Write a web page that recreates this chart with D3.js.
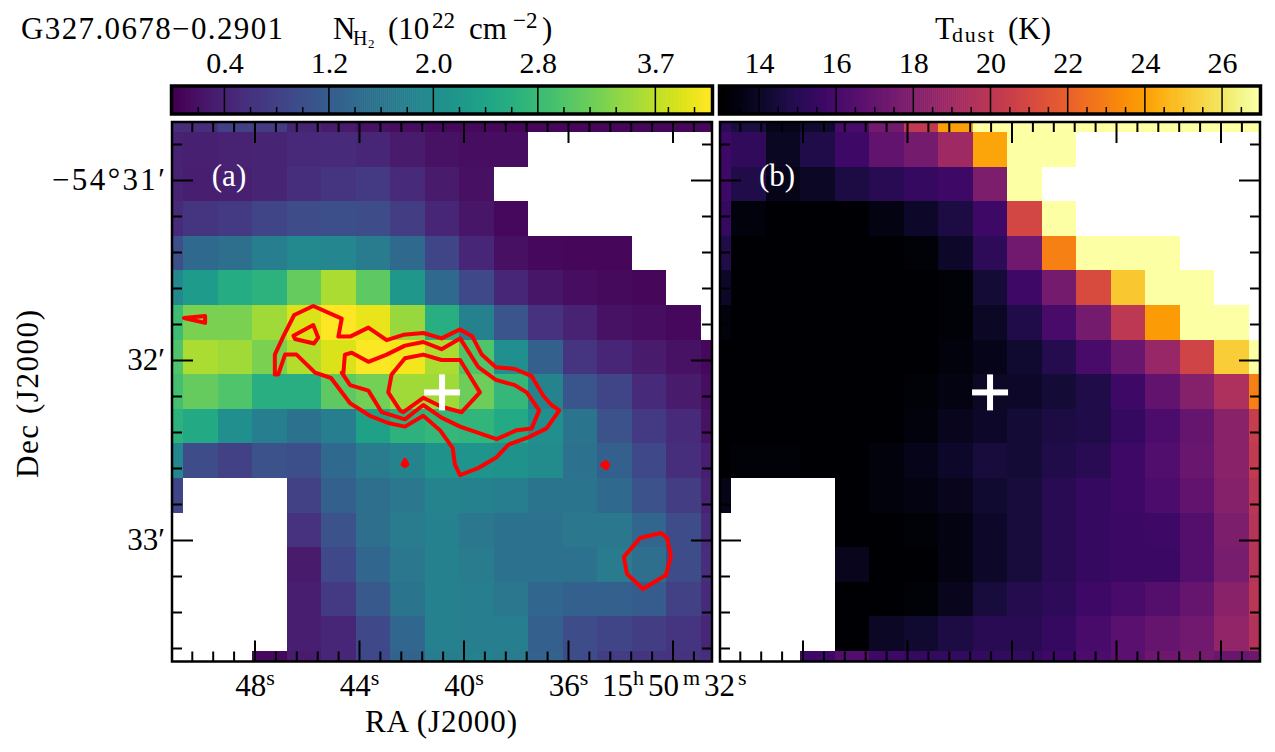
<!DOCTYPE html>
<html><head><meta charset="utf-8">
<script src="https://cdnjs.cloudflare.com/ajax/libs/d3/7.8.5/d3.min.js"></script>
<style>html,body{margin:0;padding:0;background:#fff}svg{display:block}text{font-family:"Liberation Serif",serif;fill:#000}</style>
</head><body><svg id="c" width="1275" height="752"></svg>
<script>
const _ = null;
const nh2 = [
[.55,.55,.8,.72,.4,.3,.2,.15,.1,.1,.08,.08,.08,.08,.08,.08,.08],
[.4,.38,.4,.42,.48,.5,.45,.3,.2,.15,.15,_,_,_,_,_,_],
[.4,.35,.38,.42,.55,.65,.7,.5,.3,.18,_,_,_,_,_,_,_],
[.5,.65,.7,.85,.95,1.0,.95,.75,.45,.25,.1,_,_,_,_,_,_],
[1.0,1.4,1.5,1.75,1.95,1.9,1.7,1.4,.85,.45,.18,.1,.08,.08,_,_,_],
[1.95,2.25,2.55,2.65,3.15,3.6,3.1,2.2,1.4,.9,.45,.25,.15,.12,.08,_,_],
[2.85,3.3,3.3,3.55,3.9,4.13,4.0,3.5,2.6,1.8,1.1,.6,.4,.2,.15,.1,_],
[3.0,3.6,3.55,3.3,3.65,3.9,4.1,4.05,3.6,3.0,2.05,1.25,.65,.45,.3,.2,.1],
[2.9,3.15,3.0,2.6,2.6,3.1,3.25,3.55,3.55,3.2,2.75,1.85,1.1,.85,.5,.3,.15],
[2.65,2.5,2.05,1.75,1.55,1.75,2.35,2.65,2.75,2.7,2.5,2.05,1.6,1.05,.7,.5,.2],
[1.9,.95,.8,1.05,1.0,1.4,1.7,1.85,2.1,2.15,2.1,2.0,1.55,1.25,.9,.55,.35],
[.85,_,_,_,.8,1.25,1.5,1.65,1.85,1.8,1.75,1.6,1.6,1.4,1.05,.75,.4],
[_,_,_,_,.6,1.05,1.5,1.7,1.8,1.65,1.55,1.55,1.65,1.65,1.35,.95,.5],
[_,_,_,_,.3,.9,1.35,1.65,1.8,1.7,1.55,1.55,1.55,1.7,1.5,.95,.55],
[_,_,_,_,.35,.7,1.15,1.6,1.8,1.75,1.65,1.35,1.25,1.25,1.2,.8,.5],
[_,_,_,_,.35,.45,.9,1.35,1.8,1.75,1.75,1.25,.95,.85,.75,.65,.45],
[_,_,_,.1,.3,.45,.9,1.3,1.7,1.8,1.7,1.3,.95,.75,.65,.6,.55]
];
const k = 12.93;
const tdust = [
[15.2,14.6,13.63,14.2,16.0,17.5,20.25,24.0,27,27,27,27,27,27,27,27,27],
[15.74,15.3,13.9,14.76,15.74,16.87,17.57,18.98,24.19,27,27,_,_,_,_,_,_],
[15.74,14.76,13.63,13.91,14.62,15.04,15.46,15.74,17.85,27,_,_,_,_,_,_,_],
[15.46,13.35,k,k,13.07,13.49,14.06,14.62,15.74,20.9,27,_,_,_,_,_,_],
[14.76,13.07,k,k,k,k,13.21,14.06,15.18,17.43,23.06,27,27,27,_,_,_],
[14.06,k,k,k,k,k,k,13.21,14.34,15.74,17.57,21.09,25.17,27,27,_,_],
[13.35,k,k,k,k,k,k,13.21,13.91,14.76,16.03,17.57,20.1,23.9,27,27,_],
[k,k,k,k,k,k,k,13.35,13.63,14.2,14.9,16.03,17.15,18.7,20.81,25.31,27],
[k,k,k,k,k,k,13.21,13.49,13.91,14.06,14.34,14.76,15.74,16.87,18.13,19.54,23.06],
[k,k,k,k,k,13.07,13.35,13.77,14.06,14.34,14.62,14.76,15.46,16.17,17.01,18.28,20.39],
[k,13.21,13.21,k,13.07,13.35,13.63,14.06,14.48,14.34,14.76,15.04,15.74,16.31,17.15,18.28,20.25],
[13.63,_,_,_,13.07,13.35,13.49,13.77,14.2,14.48,15.04,15.46,15.74,16.17,16.87,18.13,19.97],
[_,_,_,_,k,k,13.21,13.49,14.06,14.48,15.04,15.46,15.6,15.74,16.45,17.85,19.82],
[_,_,_,_,13.77,k,13.07,13.49,14.06,14.48,15.04,15.46,15.6,15.6,16.45,17.71,19.82],
[_,_,_,_,k,k,13.21,13.77,14.48,14.9,15.18,15.74,16.03,16.45,17.01,18.28,19.97],
[_,_,_,_,k,13.91,14.2,14.62,15.04,15.04,15.46,16.03,16.59,17.01,17.43,18.56,19.68],
[_,_,_,15.74,16.31,15.74,15.46,15.32,15.32,15.32,15.74,16.17,16.59,17.29,17.57,17.15,17.29]
];
// contours: [RA seconds after 15h50m, Dec arcmin below -54 deg]
const contours = [
[[47.24,32.08],[47.24,31.97],[46.92,31.87],[46.50,31.75],[45.77,31.70],[44.68,31.77],[44.81,31.87],[44.36,31.87],[43.66,31.82],[42.96,31.89],[42.32,31.86],[41.56,31.85],[40.86,31.88],[40.15,31.83],[39.68,31.87],[39.32,31.97],[38.78,32.04],[38.05,32.05],[37.41,32.09],[36.96,32.20],[36.65,32.25],[36.35,32.28],[36.84,32.38],[37.54,32.43],[38.30,32.47],[38.75,32.54],[39.45,32.60],[40.15,32.64],[40.35,32.58],[40.43,32.49],[40.92,32.39],[41.56,32.31],[42.26,32.37],[42.90,32.35],[43.60,32.31],[44.36,32.24],[45.09,32.10],[45.70,32.07],[46.41,31.97],[46.85,31.97],[47.11,32.08]],
[[44.62,32.08],[44.56,31.97],[44.30,31.96],[43.66,32.01],[42.96,31.97],[42.26,31.92],[41.56,31.90],[40.86,31.94],[40.15,31.88],[39.45,32.04],[38.78,32.11],[38.05,32.14],[37.60,32.18],[37.12,32.28],[37.41,32.38],[37.98,32.39],[38.75,32.44],[40.15,32.37],[40.86,32.32],[41.56,32.25],[42.26,32.33],[43.15,32.29],[43.66,32.17],[44.36,32.14],[44.68,32.07]],
[[42.90,32.18],[42.77,32.08],[42.26,31.99],[41.56,31.97],[40.86,32.00],[40.15,32.00],[39.39,32.18],[40.09,32.29],[40.86,32.26],[41.56,32.21],[42.32,32.29],[42.45,32.28]],
[[46.53,31.865],[45.77,31.806],[45.58,31.876],[45.74,31.908],[46.47,31.883]],
[[50.72,31.767],[49.91,31.756],[49.91,31.794]],
[[42.26,32.555],[42.17,32.58],[42.26,32.59],[42.35,32.58]],
[[34.72,32.583],[34.58,32.567],[34.48,32.58],[34.55,32.6]],
[[33.88,33.094],[33.26,32.989],[32.46,32.961],[32.23,32.989],[32.08,33.089],[32.27,33.194],[33.15,33.272],[33.76,33.189]]
];
const source = [40.84, 32.18];
const raMajor = [48,44,40,36,32];
const raLabels = [["48","s"],["44","s"],["40","s"],["36","s"]];
const raLastLabel = ["15","h","50","m","32","s"];
const raMinor = [50.4,49.6,48.8,47.2,46.4,45.6,44.8,43.2,42.4,41.6,40.8,39.2,38.4,37.6,36.8,35.2,34.4,33.6,32.8,31.2];
const decMajor = [31,32,33];
const decMinor = [30.8,31.2,31.4,31.6,31.8,32.2,32.4,32.6,32.8,33.2,33.4,33.6];
const nTicks = [0.4,1.2,2.0,2.8,3.7];
const nLabels = ["0.4","1.2","2.0","2.8","3.7"];
const nMinor = [0.2,0.6,0.8,1.0,1.4,1.6,1.8,2.2,2.4,2.6,3.0,3.2,3.4,3.8,4.0];
const tTicks = [14,16,18,20,22,24,26];
const tMinor = [13.5,14.5,15,15.5,16.5,17,17.5,18.5,19,19.5,20.5,21,21.5,22.5,23,23.5,24.5,25,25.5,26.5];
const nRange = [0.01,4.13];
const tRange = [13.03,26.97];

const svg = d3.select("#c");
const defs = svg.append("defs");
const H = [122,661.5], W = 540;
const FS = "31px";
const panels = [
 {id:"a",x0:172,data:nh2,color:d3.scaleSequential(d3.interpolateViridis).domain(nRange),label:"(a)"},
 {id:"b",x0:720,data:tdust,color:d3.scaleSequential(d3.interpolateInferno).domain(tRange),label:"(b)"}
];
const y = d3.scaleLinear().domain([31,33]).range([180,540]);
const rowEdge = d3.scaleLinear().domain([1,16]).range([132,651]);

panels.forEach((p,pi)=>{
  const x = d3.scaleLinear().domain([48,32]).range([p.x0+83,p.x0+501]);
  const colEdge = d3.scaleLinear().domain([1,16]).range([p.x0+11,p.x0+529]);
  defs.append("clipPath").attr("id","clip"+p.id).append("rect").attr("x",p.x0).attr("y",H[0]).attr("width",W).attr("height",H[1]-H[0]);
  const g = svg.append("g").attr("clip-path",`url(#clip${p.id})`);
  p.data.forEach((row,r)=>{
    g.selectAll(null).data(row.map((v,c)=>({v,c})).filter(d=>d.v!==null)).join("rect")
      .attr("x",d=>Math.round(colEdge(d.c))).attr("y",Math.round(rowEdge(r)))
      .attr("width",d=>Math.round(colEdge(d.c+1))-Math.round(colEdge(d.c)))
      .attr("height",Math.round(rowEdge(r+1))-Math.round(rowEdge(r)))
      .attr("fill",d=>p.color(d.v)).attr("shape-rendering","crispEdges");
  });
  if(pi===0){
    const line = d3.line().x(d=>x(d[0])).y(d=>y(d[1])).curve(d3.curveLinearClosed);
    g.selectAll("path.ct").data(contours).join("path").attr("class","ct").attr("d",line)
      .attr("fill","none").attr("stroke","#ff0000").attr("stroke-width",4).attr("stroke-linejoin","round");
  }
  const cx=x(source[0]), cy=y(source[1]);
  g.append("rect").attr("x",cx-18).attr("y",cy-3).attr("width",36).attr("height",6).attr("fill","#fff");
  g.append("rect").attr("x",cx-3).attr("y",cy-18).attr("width",6).attr("height",36).attr("fill","#fff");
  svg.append("text").attr("x",p.x0+57).attr("y",186).attr("text-anchor","middle").style("font-size",FS).style("fill","#fff").text(p.label);
  const ax = svg.append("g");
  const draw=(fn,scale,vals,len,tx)=>{
    const a=ax.append("g").attr("transform",tx).call(fn(scale).tickValues(vals).tickSize(-len).tickFormat(""));
    a.select(".domain").remove();
    a.selectAll("line").attr("stroke","#000").attr("stroke-width",2);
  };
  const xr = d3.scaleLinear().domain(x.domain()).range([p.x0+83-0.5,p.x0+501-0.5]);
  draw(d3.axisBottom,xr,raMinor,10,`translate(0,${H[1]})`);
  draw(d3.axisBottom,xr,raMajor,21,`translate(0,${H[1]})`);
  draw(d3.axisTop,xr,raMinor,10,`translate(0,${H[0]})`);
  draw(d3.axisTop,xr,raMajor,21,`translate(0,${H[0]})`);
  draw(d3.axisLeft,y,decMinor,10,`translate(${p.x0},0)`);
  draw(d3.axisLeft,y,decMajor,21,`translate(${p.x0},0)`);
  draw(d3.axisRight,y,decMinor,10,`translate(${p.x0+W},0)`);
  draw(d3.axisRight,y,decMajor,21,`translate(${p.x0+W},0)`);
  svg.append("rect").attr("x",p.x0).attr("y",H[0]).attr("width",W).attr("height",H[1]-H[0]).attr("fill","none").attr("stroke","#000").attr("stroke-width",2.5);

  // colourbar
  const cbx = d3.scaleLinear().domain(p.color.domain()).range([p.x0+1,p.x0+W-1]);
  const cbar = svg.append("g");
  const vals = d3.range(0,270).map(i=>p.color.domain()[0]+(p.color.domain()[1]-p.color.domain()[0])*i/269);
  const bw = (W-2)/270;
  cbar.selectAll("rect").data(vals).join("rect").attr("x",(d,i)=>p.x0+1+i*bw).attr("y",87).attr("width",bw+0.6).attr("height",26).attr("fill",d=>p.color(d));
  const major = pi===0?nTicks:tTicks;
  const minor = pi===0?nMinor:tMinor;
  const b1=cbar.append("g").attr("transform","translate(0,113)").call(d3.axisBottom(cbx).tickValues(minor).tickSize(-6).tickFormat(""));
  b1.select(".domain").remove(); b1.selectAll("line").attr("stroke","#000").attr("stroke-width",1.5);
  const b2=cbar.append("g").attr("transform","translate(0,113)").call(d3.axisBottom(cbx).tickValues(major).tickSize(-26).tickFormat(""));
  b2.select(".domain").remove(); b2.selectAll("line").attr("stroke","#000").attr("stroke-width",1.5);
  svg.append("rect").attr("x",p.x0-0.5).attr("y",86).attr("width",W+1).attr("height",28).attr("fill","none").attr("stroke","#000").attr("stroke-width",3.5);
  const labs = pi===0?nLabels:tTicks.map(String);
  svg.selectAll(null).data(major).join("text").attr("x",d=>cbx(d)+1).attr("y",73).attr("text-anchor","middle").style("font-size","30px").text((d,i)=>labs[i]);

  if(pi===0){
    raLabels.forEach((parts,i)=>{
      const t=svg.append("text").attr("x",x(raMajor[i])).attr("y",696).attr("text-anchor","middle").style("font-size",FS);
      t.append("tspan").text(parts[0]);
      t.append("tspan").attr("dy",-11).style("font-size","22px").text(parts[1]);
    });
    const x32 = x(raMajor[4]);
    const last = svg.append("text").attr("y",696).style("font-size",FS);
    const offs = [-71,-40,-25,10,31,65];
    raLastLabel.forEach((s,j)=>{
      const sup=j%2===1;
      const prevSup=j>0;
      last.append("tspan").attr("x",x32+offs[j]).attr("dy",sup?-11:(prevSup?11:0)).style("font-size",sup?"22px":FS).text(s);
    });
    const decText=["\u221254\u00b031\u2032","32\u2032","33\u2032"];
    const dt=svg.selectAll(null).data(decMajor).join("text").attr("x",165).attr("y",d=>y(d)+10).attr("text-anchor","end").style("font-size",FS).text((d,i)=>decText[i]);
    dt.filter((d,i)=>i===0).attr("textLength",113);
  }
});
svg.append("text").attr("x",365).attr("y",732).attr("textLength",152).style("font-size",FS).text("RA (J2000)");
svg.append("text").attr("transform","translate(38,478) rotate(-90)").attr("textLength",168).style("font-size",FS).text("Dec (J2000)");
svg.append("text").attr("x",21).attr("y",39).attr("textLength",262).style("font-size",FS).text("G327.0678\u22120.2901");
const t1=svg.append("text").attr("y",39).style("font-size",FS);
t1.append("tspan").attr("x",333).text("N");
t1.append("tspan").attr("x",353).attr("dy",6).style("font-size","20px").text("H");
t1.append("tspan").attr("x",368).attr("dy",3).style("font-size","13px").text("2");
t1.append("tspan").attr("x",388).attr("dy",-9).text("(10");
t1.append("tspan").attr("x",432).attr("dy",-11).style("font-size","23px").text("22");
t1.append("tspan").attr("x",469).attr("dy",11).text("cm");
t1.append("tspan").attr("x",513).attr("dy",-11).style("font-size","23px").text("\u22122");
t1.append("tspan").attr("x",542).attr("dy",11).text(")");
const t2=svg.append("text").attr("y",39).style("font-size",FS);
t2.append("tspan").attr("x",935).text("T");
t2.append("tspan").attr("x",952).attr("dy",2.5).attr("textLength",42).style("font-size","22px").text("dust");
t2.append("tspan").attr("x",1008).attr("dy",-2.5).text("(K)");
</script></body></html>
